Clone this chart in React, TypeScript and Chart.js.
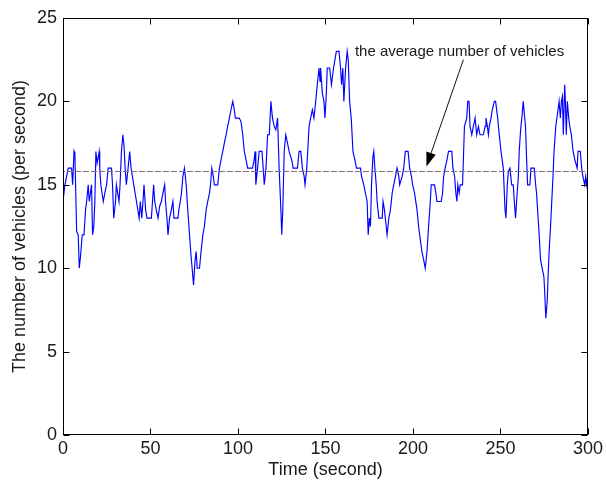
import React, { useEffect, useRef } from "react";
import { Chart, registerables } from "chart.js";

Chart.register(...registerables);

// Time (seconds) at which each value was read
const times: number[] = [
  0, 1.1, 3, 4.9, 5.5, 6.3, 6.8, 7.8, 8.7, 9.3, 10, 11, 12, 12.9, 13.5, 14.4, 15, 16.3, 16.9, 17.6,
  18.2, 18.8, 19.5, 20.7, 21, 21.6, 23, 23.9, 24.9, 25.8, 27.7, 28.3, 29, 30, 30.5, 32, 32.6, 33.4, 34.2, 34.9,
  35.5, 36.2, 37.2, 38.1, 38.9, 41.2, 42, 43.5, 44.2, 45, 45.7, 46.3, 47.2, 48, 50.5, 51.8, 52.4, 53.3, 54.3, 55.2,
  56.2, 57.1, 58.1, 58.6, 59.4, 60, 60.9, 61.9, 62.8, 63.4, 64.7, 65.7, 66.2, 67, 67.7, 68.5, 69.4, 70.4, 71.3, 72.3,
  73.2, 73.8, 74.6, 75.5, 76.1, 76.7, 78, 78.9, 79.9, 80.8, 81.8, 82.7, 83.7, 84.3, 85, 85.9, 86.5, 88.4, 89.4, 90.3,
  91.3, 92.2, 93.2, 94.1, 95.1, 96, 97, 97.9, 98.5, 100.7, 101.7, 102.7, 103.6, 104.6, 105.5, 108.3, 109.2, 109.8, 110.2, 111.2,
  112.1, 113.7, 114.4, 115, 116, 116.9, 117.9, 118.8, 119.7, 120.7, 121.6, 122.6, 123.5, 124.5, 125, 125.6, 126.4, 127.3, 128.3, 129.2,
  130.7, 131.5, 134, 134.9, 135.9, 136.8, 137.8, 138.3, 139.3, 140, 140.6, 141.5, 142.5, 143.4, 144.4, 145.3, 146.3, 146.9, 147.2, 148.2,
  149.1, 149.7, 150.5, 151, 152.4, 153.4, 154.6, 156.2, 157.7, 158.6, 159.2, 159.9, 160.5, 161.5, 162.4, 163, 163.8, 164.7, 165.7, 166.8,
  167.7, 170, 170.6, 171.9, 172.8, 173.8, 174.4, 175.1, 175.7, 176.3, 177.1, 177.6, 178.2, 179, 179.5, 180.5, 182.4, 182.9, 183.7, 184.2,
  185.2, 186.2, 187.1, 188.1, 189, 190, 190.9, 191.9, 192.4, 193.8, 194.7, 195.6, 197.2, 198.1, 199.1, 199.8, 200.9, 202.3, 203.2, 204.2,
  205.1, 206.1, 207, 208, 208.9, 209.9, 210.4, 212.3, 213.1, 213.7, 216.1, 216.9, 217.5, 218.4, 219.4, 220.3, 222.2, 222.8, 223.8, 224.5,
  225.1, 225.6, 226.4, 227, 228.3, 228.8, 229.4, 230.7, 231.3, 232, 232.6, 233.6, 234.5, 235.5, 236.4, 237.4, 238.3, 240.2, 241.2, 241.7,
  242.5, 243.1, 243.6, 244.6, 245.3, 246.5, 247.2, 248.4, 249.3, 250.3, 251.6, 252.6, 253.1, 253.9, 254.5, 255.4, 256.4, 257.3, 257.9, 258.6,
  259.2, 260.2, 260.7, 261.5, 262.2, 263, 263.5, 264.3, 264.9, 265.5, 266.8, 267.4, 269.3, 270.1, 270.6, 271.2, 272.1, 272.9, 273.8, 274.8,
  275.3, 275.9, 276.7, 277.2, 277.8, 278.6, 279.3, 280, 280.6, 281.6, 282.5, 283.5, 284.2, 284.8, 285.4, 285.9, 286.7, 287.1, 287.6, 288.2,
  289, 289.6, 290.5, 291.5, 292.5, 293.8, 294.3, 295.6, 296.4, 297.1, 298.1, 298.7, 299.1, 300,
];

// Number of vehicles per second
const vehicles: number[] = [
  14, 15, 16, 16, 15, 17, 16.8, 12.2, 12, 10, 10.7, 12, 12, 13.5, 14, 15, 14, 15, 12, 12.5,
  14, 17, 16.3, 17, 16, 15, 14, 14.5, 15, 16, 16, 15, 13, 14, 15, 14, 15, 17, 18, 17.3,
  16, 15, 16, 17, 16, 14.5, 14, 13, 14, 13, 14, 15, 13.5, 13, 13, 15, 14, 13.5, 13, 13.7,
  14, 14.5, 15, 14, 13, 12, 13, 13.5, 14, 13, 13, 13, 13.5, 14, 14.5, 15.5, 16, 15, 13.5, 12,
  10.7, 10, 9, 10.5, 11, 10, 10, 11, 12, 12.5, 13.5, 14, 14.5, 15, 16, 15.5, 15, 15, 16, 16.5,
  17, 17.5, 18, 18.5, 19, 19.5, 20, 19.5, 19, 19, 18.8, 18, 17, 16.5, 16, 16, 16.5, 17, 15, 16,
  17, 17, 16, 15, 16, 18, 18, 20, 19, 18.5, 18.3, 19, 16, 13.5, 12, 13.5, 17, 18, 17.5, 17,
  16.5, 16, 16, 17, 17, 16, 15.5, 15, 16, 17.3, 18.5, 19, 19.5, 19, 20, 21, 22, 21.2, 22, 20.5,
  20, 19, 20.5, 22, 22, 21, 22, 23, 23, 22, 21, 22, 20, 22, 23, 22.5, 20, 19, 17, 16.5,
  16, 16, 15.5, 15, 14.5, 14, 12, 13, 12.5, 15, 16.7, 17, 16, 15, 14, 13, 13, 14, 13.5, 13,
  12, 13, 13.5, 14.5, 15, 15.5, 16, 15.5, 15, 15.5, 16, 17, 17, 16, 15.5, 15, 14.5, 13.5, 12.5, 11.7,
  11, 10.5, 10, 11, 12.5, 14, 15, 15, 14.5, 14, 14, 14.5, 15.5, 16, 16.5, 17, 17, 16, 15.5, 14.5,
  14, 15, 14.5, 15, 15, 16.5, 18.5, 19, 20, 20, 18.5, 18, 18.5, 19, 18, 18.5, 18, 18, 18.5, 19,
  18.5, 18, 18.5, 19, 19.5, 20, 20, 19, 18, 17, 16, 13.5, 13, 15, 15.8, 16, 15, 15, 14, 13,
  14, 15.5, 17, 18.3, 19, 20, 19.4, 18.5, 16.6, 15, 15, 16, 16, 15, 14.5, 13.5, 12, 10.5, 10, 9.5,
  8.5, 7, 8, 9.5, 11, 12.5, 14, 15.5, 17, 18.5, 19.2, 20, 19, 20, 20.3, 18, 21, 20, 18, 20,
  19, 18.5, 18, 17, 16.5, 16, 17, 17, 16, 15.5, 15, 15.5, 15, 15.6,
];

const AVERAGE = 15.8;
const xTickValues: number[] = [0, 50, 100, 150, 200, 250, 300];
const yTickValues: number[] = [0, 5, 10, 15, 20, 25];
const annotationText = "the average number of vehicles";
const annotationTextAt = { x: 166.8, y: 23.0 };
const arrowFrom = { x: 228.8, y: 22.5 };
const arrowTo = { x: 207.7, y: 16.1 };

const FONT = "'Liberation Sans', Arial, Helvetica, sans-serif";

const framePlugin = {
  id: "frame",
  afterDatasetsDraw(chart: any) {
    const { ctx, chartArea: a, scales } = chart;
    const xs = scales.x;
    const ys = scales.y;
    ctx.save();
    ctx.strokeStyle = "#000";
    ctx.lineWidth = 1;
    const L = Math.round(a.left) + 0.5;
    const R = Math.round(a.right) - 0.5;
    const T = Math.round(a.top) + 0.5;
    const B = Math.round(a.bottom) - 0.5;
    ctx.strokeRect(L, T, R - L, B - T);
    const tl = 6;
    ctx.beginPath();
    xTickValues.forEach((v) => {
      const px = Math.round(xs.getPixelForValue(v)) + 0.5;
      ctx.moveTo(px, B);
      ctx.lineTo(px, B - tl);
      ctx.moveTo(px, T);
      ctx.lineTo(px, T + tl);
    });
    yTickValues.forEach((v) => {
      const py = Math.round(ys.getPixelForValue(v)) + 0.5;
      ctx.moveTo(L, py);
      ctx.lineTo(L + tl, py);
      ctx.moveTo(R, py);
      ctx.lineTo(R - tl, py);
    });
    ctx.stroke();

    // annotation
    ctx.fillStyle = "#1a1a1a";
    ctx.font = `15px ${FONT}`;
    ctx.textAlign = "left";
    ctx.textBaseline = "middle";
    ctx.fillText(annotationText, xs.getPixelForValue(annotationTextAt.x), ys.getPixelForValue(annotationTextAt.y));

    const x1 = xs.getPixelForValue(arrowFrom.x);
    const y1 = ys.getPixelForValue(arrowFrom.y);
    const x2 = xs.getPixelForValue(arrowTo.x);
    const y2 = ys.getPixelForValue(arrowTo.y);
    const ang = Math.atan2(y2 - y1, x2 - x1);
    const headLen = 14;
    const headW = 5;
    const bx = x2 - headLen * Math.cos(ang);
    const by = y2 - headLen * Math.sin(ang);
    ctx.strokeStyle = "#111";
    ctx.beginPath();
    ctx.moveTo(x1, y1);
    ctx.lineTo(bx, by);
    ctx.stroke();
    ctx.beginPath();
    ctx.moveTo(x2, y2);
    ctx.lineTo(bx + headW * Math.sin(ang), by - headW * Math.cos(ang));
    ctx.lineTo(bx - headW * Math.sin(ang), by + headW * Math.cos(ang));
    ctx.closePath();
    ctx.fillStyle = "#000";
    ctx.fill();
    ctx.restore();
  },
};

export default function App() {
  const ref = useRef<HTMLCanvasElement | null>(null);

  useEffect(() => {
    if (!ref.current) return;
    const avgData = [
      { x: 0, y: AVERAGE },
      { x: 300, y: AVERAGE },
    ];
    const avgDs = (color: string, offset: number) => ({
      data: avgData,
      borderColor: color,
      borderWidth: 1,
      borderDash: [2, 6],
      borderDashOffset: offset,
      pointRadius: 0,
      fill: false,
    });
    const chart = new Chart(ref.current, {
      type: "line",
      data: {
        datasets: [
          avgDs("#e04848", 0),
          avgDs("#3aa03a", 2),
          avgDs("#5a5ae0", 4),
          {
            data: times.map((t, i) => ({ x: t, y: vehicles[i] })),
            borderColor: "#0000ff",
            borderWidth: 1.15,
            pointRadius: 0,
            tension: 0,
            fill: false,
          },
        ],
      },
      options: {
        animation: false,
        responsive: false,
        maintainAspectRatio: false,
        layout: { padding: { top: 18, right: 16, left: 0, bottom: 0 } },
        plugins: { legend: { display: false }, tooltip: { enabled: false } },
        scales: {
          x: {
            type: "linear",
            min: 0,
            max: 300,
            afterBuildTicks: (s: any) => {
              s.ticks = xTickValues.map((v) => ({ value: v }));
            },
            afterFit: (s: any) => {
              s.height = 52;
            },
            grid: { display: false, drawTicks: false },
            border: { display: false },
            ticks: {
              padding: 3,
              maxRotation: 0,
              autoSkip: false,
              color: "#1a1a1a",
              font: { family: FONT, size: 18 },
            },
            title: {
              display: true,
              text: "Time (second)",
              color: "#1a1a1a",
              font: { family: FONT, size: 18 },
              padding: { top: 0, bottom: 6 },
            },
          },
          y: {
            type: "linear",
            min: 0,
            max: 25,
            afterBuildTicks: (s: any) => {
              s.ticks = yTickValues.map((v) => ({ value: v }));
            },
            afterFit: (s: any) => {
              s.width = 63;
            },
            grid: { display: false, drawTicks: false },
            border: { display: false },
            ticks: {
              padding: 6,
              color: "#1a1a1a",
              font: { family: FONT, size: 18 },
            },
            title: {
              display: true,
              text: "The number of vehicles (per second)",
              color: "#1a1a1a",
              font: { family: FONT, size: 18 },
              padding: { top: 9, bottom: 0 },
            },
          },
        },
      },
      plugins: [framePlugin],
    });
    return () => chart.destroy();
  }, []);

  return (
    <div style={{ position: "absolute", left: 0, top: 0, width: 606, height: 487, background: "#fff" }}>
      <canvas ref={ref} width={606} height={487} />
    </div>
  );
}
